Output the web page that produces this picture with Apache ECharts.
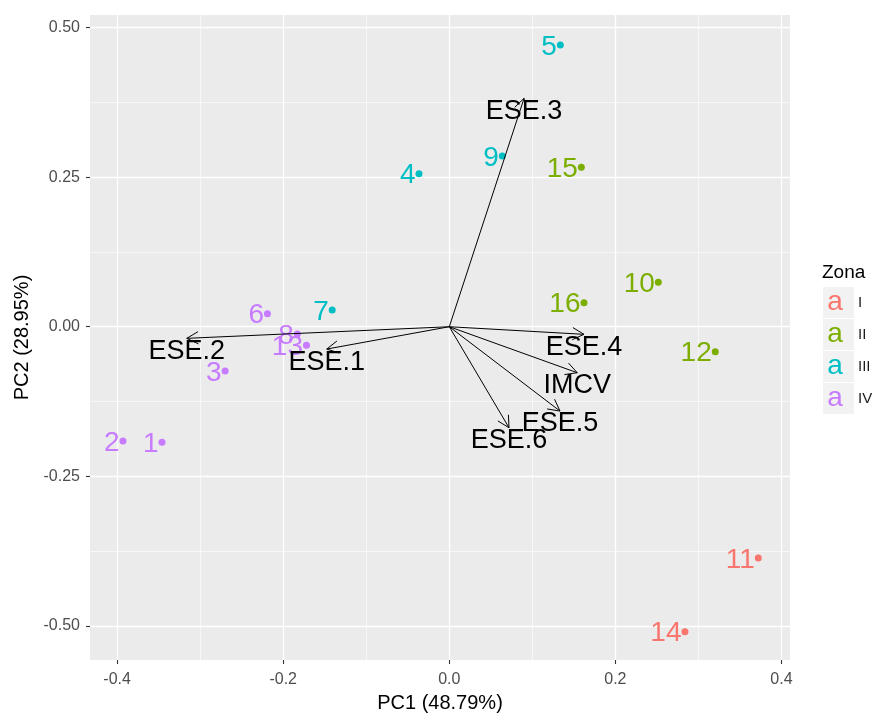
<!DOCTYPE html>
<html>
<head>
<meta charset="utf-8">
<script src="https://cdn.jsdelivr.net/npm/echarts@6/dist/echarts.min.js"></script>
<style>
html,body{margin:0;padding:0;background:#fff;}
#chart{width:874px;height:716px;}
</style>
</head>
<body>
<div id="chart"></div>
<script>
// ---- data ----
const sampleLabels = ['1','2','3','4','5','6','7','8','9','10','11','12','13','14','15','16'];
const pc1Scores = [-0.346,-0.393,-0.270,-0.0365,0.1337,-0.219,-0.141,-0.183,0.0638,0.2517,0.3721,0.3203,-0.172,0.2838,0.159,0.1622];
const pc2Scores = [-0.193,-0.191,-0.074,0.2557,0.4708,0.0217,0.028,-0.012,0.2853,0.0742,-0.3866,-0.0418,-0.031,-0.5098,0.2664,0.0401];
const sampleZone = ['IV','IV','IV','III','III','IV','III','IV','III','II','I','II','IV','I','II','II'];
const zones = ['I','II','III','IV'];
const zoneColors = ['#F8766D','#7CAE00','#00BFC4','#C77CFF'];
const varNames = ['ESE.1','ESE.2','ESE.3','ESE.4','ESE.5','ESE.6','IMCV'];
const varPC1 = [-0.1476,-0.3162,0.090,0.1622,0.1333,0.0719,0.1541];
const varPC2 = [-0.0373,-0.0194,0.3817,-0.0127,-0.1409,-0.1688,-0.0769];
const xTicks = [-0.4,-0.2,0.0,0.2,0.4];
const xMinor = [-0.3,-0.1,0.1,0.3];
const yTicks = [-0.5,-0.25,0.0,0.25,0.5];
const yMinor = [-0.375,-0.125,0.125,0.375];
const xTitle = 'PC1 (48.79%)';
const yTitle = 'PC2 (28.95%)';
const legendTitle = 'Zona';

// ---- chart ----
const FONT = '"Liberation Sans", Arial, sans-serif';
const X_MIN = -0.4327, X_MAX = 0.4103, Y_MIN = -0.557, Y_MAX = 0.521;
const chart = echarts.init(document.getElementById('chart'));

const zoneSeries = zones.map((z, zi) => ({
  type: 'scatter',
  name: z,
  xAxisIndex: 0, yAxisIndex: 0,
  z: 3,
  symbol: 'circle',
  symbolSize: 7,
  itemStyle: { color: zoneColors[zi], opacity: 1 },
  label: {
    show: true,
    position: 'left',
    distance: 0,
    offset: [0, 2],
    formatter: p => p.data[2],
    color: zoneColors[zi],
    opacity: 1,
    fontSize: 28,
    fontFamily: FONT
  },
  emphasis: { disabled: true },
  data: sampleLabels.map((s, i) => [pc1Scores[i], pc2Scores[i], s, sampleZone[i]])
                    .filter(d => d[3] === z)
}));

const arrowSeries = {
  type: 'custom',
  xAxisIndex: 0, yAxisIndex: 0,
  z: 5,
  silent: true,
  data: varNames.map((n, i) => [varPC1[i], varPC2[i], n]),
  renderItem: function (params, api) {
    const o = api.coord([0, 0]);
    const t = api.coord([api.value(0), api.value(1)]);
    const ang = Math.atan2(t[1] - o[1], t[0] - o[0]);
    const L = 13, a = 28 * Math.PI / 180;
    const b1 = [t[0] - L * Math.cos(ang - a), t[1] - L * Math.sin(ang - a)];
    const b2 = [t[0] - L * Math.cos(ang + a), t[1] - L * Math.sin(ang + a)];
    const name = varNames[params.dataIndex];
    return {
      type: 'group',
      children: [
        { type: 'line', shape: { x1: o[0], y1: o[1], x2: t[0], y2: t[1] },
          style: { stroke: '#000', lineWidth: 1 } },
        { type: 'polyline', shape: { points: [b1, t, b2] },
          style: { stroke: '#000', lineWidth: 1, fill: null } },
        { type: 'text', z2: 10,
          style: { text: name, x: t[0], y: t[1] + 13, align: 'center', verticalAlign: 'middle',
                   fontSize: 27, fontFamily: FONT, fill: '#000' } }
      ]
    };
  }
};

const legendGraphics = [{
  type: 'text', left: 822, top: 263,
  style: { text: legendTitle, fontSize: 19, fontFamily: FONT, fill: '#000' }
}];
zones.forEach((z, i) => {
  const y0 = 287 + 32 * i;
  legendGraphics.push({ type: 'rect', shape: { x: 823, y: y0, width: 31, height: 31 },
    style: { fill: '#F2F2F2' } });
  legendGraphics.push({ type: 'text', style: { text: 'a', x: 835, y: y0 + 15, align: 'center',
    verticalAlign: 'middle', fontSize: 28, fontFamily: FONT, fill: zoneColors[i] } });
  legendGraphics.push({ type: 'text', style: { text: z, x: 858, y: y0 + 16, align: 'left',
    verticalAlign: 'middle', fontSize: 15, fontFamily: FONT, fill: '#1A1A1A' } });
});

const majorLine = { show: true, lineStyle: { color: '#FFFFFF', width: 1.3 } };
const minorLine = { show: true, lineStyle: { color: '#FFFFFF', width: 0.6 } };

chart.setOption({
  animation: false,
  textStyle: { fontFamily: FONT },
  grid: { left: 90, right: 84, top: 15, bottom: 56, show: true, backgroundColor: '#EBEBEB',
          borderWidth: 0, containLabel: false, outerBoundsMode: 'none' },
  xAxis: [
    { type: 'value', min: X_MIN, max: X_MAX, gridIndex: 0, position: 'bottom',
      axisLine: { show: false, onZero: false },
      axisTick: { show: true, length: 4, customValues: xTicks, lineStyle: { color: '#333333', width: 1.1 } },
      axisLabel: { show: true, customValues: xTicks, margin: 12, fontSize: 16, color: '#4D4D4D',
                   formatter: v => Number(v).toFixed(1) },
      splitLine: majorLine,
      name: xTitle, nameLocation: 'middle', nameGap: 33,
      nameTextStyle: { fontSize: 20, color: '#000', fontFamily: FONT } },
    { type: 'value', min: X_MIN, max: X_MAX, gridIndex: 0, position: 'top',
      axisLine: { show: false, onZero: false },
      axisTick: { show: false, customValues: xMinor },
      axisLabel: { show: false, customValues: xMinor },
      splitLine: minorLine }
  ],
  yAxis: [
    { type: 'value', min: Y_MIN, max: Y_MAX, gridIndex: 0, position: 'left',
      axisLine: { show: false, onZero: false },
      axisTick: { show: true, length: 4, customValues: yTicks, lineStyle: { color: '#333333', width: 1.1 } },
      axisLabel: { show: true, customValues: yTicks, margin: 10, fontSize: 16, color: '#4D4D4D',
                   formatter: v => Number(v).toFixed(2) },
      splitLine: majorLine,
      name: yTitle, nameLocation: 'middle', nameGap: 58,
      nameTextStyle: { fontSize: 20, color: '#000', fontFamily: FONT } },
    { type: 'value', min: Y_MIN, max: Y_MAX, gridIndex: 0, position: 'right',
      axisLine: { show: false, onZero: false },
      axisTick: { show: false, customValues: yMinor },
      axisLabel: { show: false, customValues: yMinor },
      splitLine: minorLine }
  ],
  series: zoneSeries.concat([arrowSeries]),
  graphic: legendGraphics
});
</script>
</body>
</html>
